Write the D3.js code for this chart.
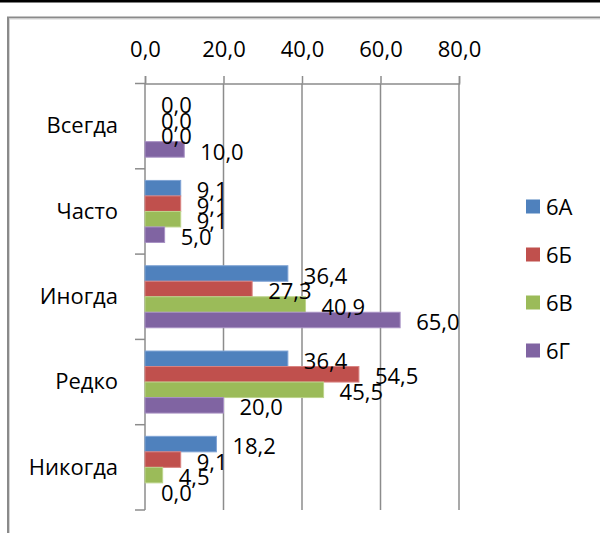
<!DOCTYPE html>
<html><head><meta charset="utf-8">
<script src="https://cdn.jsdelivr.net/npm/d3@7"></script>
<style>body{margin:0;background:#fff}svg{display:block}text{font-family:"Open Sans",sans-serif}</style>
</head><body><svg id="c" width="600" height="533"></svg>
<script>
const categories = ["Всегда","Часто","Иногда","Редко","Никогда"];
const seriesNames = ["6А","6Б","6В","6Г"];
const s6A = [0.0, 9.1, 36.4, 36.4, 18.2];
const s6B = [0.0, 9.1, 27.3, 54.5, 9.1];
const s6V = [0.0, 9.1, 40.9, 45.5, 4.5];
const s6G = [10.0, 5.0, 65.0, 20.0, 0.0];
const tickValues = [0, 20, 40, 60, 80];
const colors = ["#4F81BD","#C0504D","#9BBB59","#8064A2"];
const strokes = ["#7fa3d4","#d98381","#bdd48c","#a891c4"];

const seriesValues = [s6A, s6B, s6V, s6G];
const svg = d3.select("#c");
const fmt = v => d3.format(".1f")(v).replace(".", ",");
const FONT = "Open Sans";
const FS = 22;
const SY = 1.03;

// outer frame
svg.append("rect").attr("x",0).attr("y",0).attr("width",600).attr("height",2.5).attr("fill","#000");
svg.append("path").attr("d","M8,533V17.5H600").attr("fill","none").attr("stroke","#8a8a8a").attr("stroke-width",2);
svg.append("path").attr("d","M9.5,533V19H600").attr("fill","none").attr("stroke","#d4d4d4").attr("stroke-width",1);

const x = d3.scaleLinear().domain([0,80]).range([145,459]);
const y = d3.scaleBand().domain(categories).range([83.5,510]).paddingInner(0).paddingOuter(0);
const ys = d3.scaleBand().domain(seriesNames).range([0,y.bandwidth()]).paddingInner(0).paddingOuter(0.75);

const gridColor = "#8c8c8c";
// gridlines
svg.append("g").selectAll("line").data(tickValues.slice(1)).join("line")
  .attr("x1",d=>x(d)).attr("x2",d=>x(d)).attr("y1",83.5).attr("y2",510)
  .attr("stroke",gridColor).attr("stroke-width",1.5);

// top axis
const xAxis = d3.axisTop(x).tickValues(tickValues).tickSize(7.5).tickPadding(18).tickFormat(fmt);
const gx = svg.append("g").attr("transform","translate(0,83.5)").call(xAxis);
gx.select(".domain").attr("stroke",gridColor).attr("stroke-width",1.5);
gx.selectAll(".tick line").attr("stroke",gridColor).attr("stroke-width",1.5);
gx.selectAll(".tick text").attr("font-size",FS).attr("fill","#000").attr("font-family",FONT)
  .attr("transform",`scale(1,${SY})`);

// left axis line + boundary ticks
svg.append("line").attr("x1",145).attr("x2",145).attr("y1",83.5).attr("y2",510).attr("stroke",gridColor).attr("stroke-width",1.5);
const bounds = categories.map(c=>y(c)).concat([y(categories[categories.length-1])+y.bandwidth()]);
svg.append("g").selectAll("line").data(bounds).join("line")
  .attr("x1",135).attr("x2",145).attr("y1",d=>d).attr("y2",d=>d)
  .attr("stroke",gridColor).attr("stroke-width",1.5);
const yAxis = d3.axisLeft(y).tickSize(0).tickPadding(27);
const gy = svg.append("g").attr("transform","translate(145,0)").call(yAxis);
gy.select(".domain").remove();
gy.selectAll(".tick text").attr("font-size",FS).attr("fill","#000").attr("font-family",FONT)
  .attr("transform",`scale(1,${SY})`);

// bars
const rows = [];
categories.forEach((c,i)=>seriesNames.forEach((s,j)=>rows.push({c,s,j,v:seriesValues[j][i]})));
svg.append("g").selectAll("rect").data(rows).join("rect")
  .attr("x",x(0)).attr("y",d=>y(d.c)+ys(d.s))
  .attr("width",d=>x(d.v)-x(0)).attr("height",ys.bandwidth())
  .attr("fill",d=>colors[d.j]).attr("stroke",d=>d.v>0?strokes[d.j]:"none").attr("stroke-width",1);

// data labels
svg.append("g").selectAll("text").data(rows).join("text")
  .attr("transform",d=>`translate(${x(d.v)+16},${y(d.c)+ys(d.s)+ys.bandwidth()/2+1.5}) scale(1,${SY})`)
  .attr("dominant-baseline","central").attr("font-size",FS).attr("fill","#000")
  .text(d=>fmt(d.v));

// legend
const lg = svg.append("g").selectAll("g").data(seriesNames).join("g")
  .attr("transform",(d,i)=>`translate(526,${206.5+i*48})`);
lg.append("rect").attr("x",0).attr("y",-7).attr("width",14).attr("height",14).attr("fill",(d,i)=>colors[i]);
lg.append("text").attr("transform",`translate(20,0) scale(1,${SY})`).attr("dominant-baseline","central")
  .attr("font-size",FS).attr("fill","#000").text(d=>d);
</script></body></html>
